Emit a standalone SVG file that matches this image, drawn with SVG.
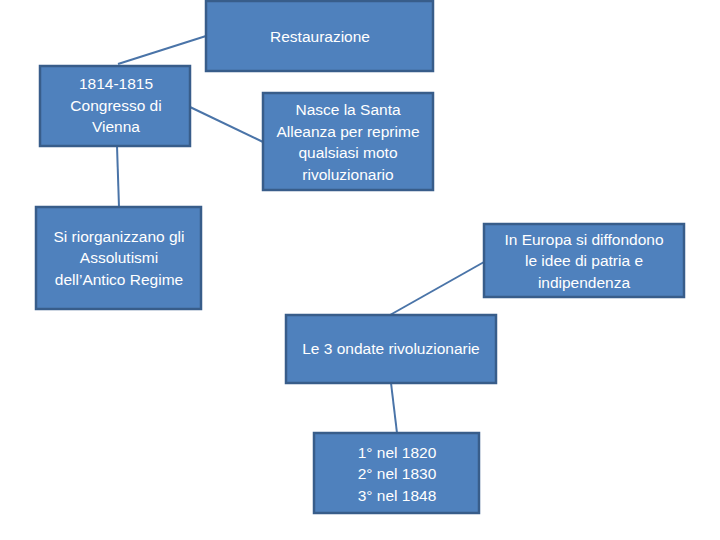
<svg xmlns="http://www.w3.org/2000/svg" width="720" height="540" viewBox="0 0 720 540">
<style>
.box{fill:#4F81BD;stroke:#385D8A;stroke-width:2.5}
.t{font-family:"Liberation Sans",Arial,sans-serif;font-size:15.5px;fill:#fff;text-anchor:middle}
.c{stroke:#4A74A8;stroke-width:2;fill:none}
</style>
<rect width="720" height="540" fill="#fff"/>
<g id="connectors">
<line class="c" x1="206" y1="36" x2="118" y2="64"/>
<line class="c" x1="190" y1="107" x2="263" y2="142"/>
<line class="c" x1="117" y1="146" x2="119" y2="207"/>
<line class="c" x1="484" y1="262" x2="390" y2="315"/>
<line class="c" x1="391" y1="383" x2="397" y2="433"/>
</g>
<g id="restaurazione"><rect class="box" x="206" y="1" width="227" height="70"/><text class="t" x="320" y="42">Restaurazione</text></g>
<g id="congresso"><rect class="box" x="40" y="66" width="150" height="80"/><text class="t" x="116" y="89">1814-1815</text><text class="t" x="116" y="111">Congresso di</text><text class="t" x="116" y="132">Vienna</text></g>
<g id="santa"><rect class="box" x="263" y="93" width="170" height="97"/><text class="t" x="348" y="115">Nasce la Santa</text><text class="t" x="348" y="137">Alleanza per reprime</text><text class="t" x="348" y="158">qualsiasi moto</text><text class="t" x="348" y="180">rivoluzionario</text></g>
<g id="assolutismi"><rect class="box" x="36" y="207" width="165" height="102"/><text class="t" x="119" y="242">Si riorganizzano gli</text><text class="t" x="119" y="263">Assolutismi</text><text class="t" x="119" y="285">dell’Antico Regime</text></g>
<g id="europa"><rect class="box" x="484" y="224" width="200" height="73"/><text class="t" x="584" y="245">In Europa si diffondono</text><text class="t" x="584" y="266">le idee di patria e</text><text class="t" x="584" y="288">indipendenza</text></g>
<g id="ondate"><rect class="box" x="286" y="315" width="210" height="68"/><text class="t" x="391" y="354">Le 3 ondate rivoluzionarie</text></g>
<g id="date"><rect class="box" x="314" y="433" width="165" height="80"/><text class="t" x="397" y="458">1° nel 1820</text><text class="t" x="397" y="479">2° nel 1830</text><text class="t" x="397" y="501">3° nel 1848</text></g>
</svg>
